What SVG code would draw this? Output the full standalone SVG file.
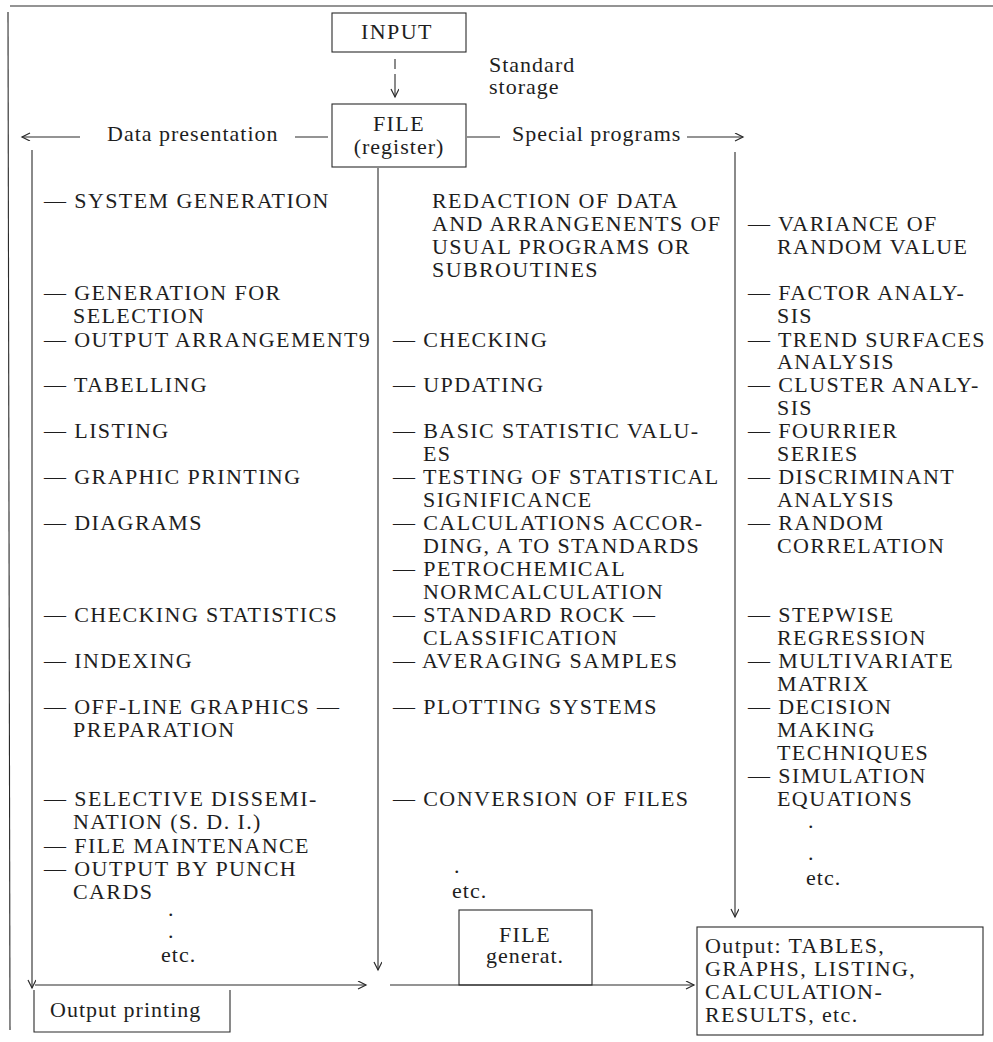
<svg xmlns="http://www.w3.org/2000/svg" width="993" height="1042" viewBox="0 0 993 1042">
  <style>
    text { font-family: "Liberation Serif", "Times New Roman", serif; font-size: 22px; fill: #1e1e1e; }
    .cap { letter-spacing: 1.4px; }
    .low { letter-spacing: 1px; }
    .mid { text-anchor: middle; }
    .box { fill: none; stroke: #2a2a2a; stroke-width: 1.1; }
    .ln { fill: none; stroke: #2a2a2a; stroke-width: 1.1; }
    .arr { marker-end: url(#head); }
  </style>
  <defs>
    <marker id="head" markerUnits="userSpaceOnUse" markerWidth="12" markerHeight="10" refX="9" refY="4" orient="auto">
      <path d="M1,0 L9,4 L1,8" fill="none" stroke="#2a2a2a" stroke-width="1.2"/>
    </marker>
  </defs>
  <rect width="993" height="1042" fill="#ffffff"/>

  <!-- page frame -->
  <g id="frame">
    <line class="ln" x1="10" y1="6" x2="993" y2="6"/>
    <line class="ln" x1="8" y1="12" x2="10" y2="1030"/>
  </g>

  <!-- connectors -->
  <g id="connectors">
    <line class="ln" x1="395" y1="59" x2="395" y2="69"/>
    <line class="ln arr" x1="395" y1="74" x2="395" y2="97"/>
    <line class="ln" x1="328" y1="137" x2="295" y2="137"/>
    <line class="ln arr" x1="80" y1="137" x2="22" y2="137"/>
    <line class="ln" x1="467" y1="137" x2="500" y2="137"/>
    <line class="ln arr" x1="687" y1="137" x2="743" y2="137"/>
    <line class="ln arr" x1="32" y1="150" x2="32" y2="988"/>
    <line class="ln arr" x1="378" y1="168" x2="378" y2="970"/>
    <line class="ln arr" x1="735" y1="152" x2="735" y2="917"/>
    <line class="ln arr" x1="35" y1="985" x2="366" y2="985"/>
    <line class="ln arr" x1="390" y1="985" x2="694" y2="985"/>
  </g>

  <!-- nodes -->
  <g id="input">
    <rect class="box" x="332" y="13" width="134" height="39"/>
    <text class="cap mid" x="397" y="39">INPUT</text>
  </g>
  <g id="storage-label">
    <text class="low" x="489" y="72">Standard</text>
    <text class="low" x="489" y="94">storage</text>
  </g>
  <g id="file-register">
    <rect class="box" x="332" y="104" width="134" height="63"/>
    <text class="cap mid" x="399" y="131">FILE</text>
    <text class="low mid" x="399" y="154">(register)</text>
  </g>
  <g id="data-presentation-label">
    <text class="low" x="107" y="141">Data presentation</text>
  </g>
  <g id="special-programs-label">
    <text class="low" x="512" y="141">Special programs</text>
  </g>
  <g id="file-generat">
    <rect class="box" x="459" y="910" width="133" height="75"/>
    <text class="cap mid" x="525" y="942">FILE</text>
    <text class="low mid" x="525" y="963">generat.</text>
  </g>
  <g id="output-printing">
    <path class="box" d="M34,990 V1032 H230 V990"/>
    <text class="low" x="50" y="1017">Output printing</text>
  </g>
  <g id="output-results">
    <rect class="box" x="697" y="927" width="286" height="108"/>
    <text class="cap" x="705" y="953">Output: TABLES,</text>
    <text class="cap" x="705" y="976">GRAPHS, LISTING,</text>
    <text class="cap" x="705" y="999">CALCULATION-</text>
    <text class="cap" x="705" y="1022">RESULTS, etc.</text>
  </g>

  <!-- data presentation column -->
  <g id="col-data-presentation" class="cap">
    <text class="cap" x="44" y="208">— SYSTEM GENERATION</text>
    <text class="cap" x="44" y="300">— GENERATION FOR</text>
    <text class="cap" x="73" y="323">SELECTION</text>
    <text class="cap" x="44" y="347">— OUTPUT ARRANGEMENT9</text>
    <text class="cap" x="44" y="392">— TABELLING</text>
    <text class="cap" x="44" y="438">— LISTING</text>
    <text class="cap" x="44" y="484">— GRAPHIC PRINTING</text>
    <text class="cap" x="44" y="530">— DIAGRAMS</text>
    <text class="cap" x="44" y="622">— CHECKING STATISTICS</text>
    <text class="cap" x="44" y="668">— INDEXING</text>
    <text class="cap" x="44" y="714">— OFF-LINE GRAPHICS —</text>
    <text class="cap" x="73" y="737">PREPARATION</text>
    <text class="cap" x="44" y="806">— SELECTIVE DISSEMI-</text>
    <text class="cap" x="73" y="829">NATION (S. D. I.)</text>
    <text class="cap" x="44" y="853">— FILE MAINTENANCE</text>
    <text class="cap" x="44" y="876">— OUTPUT BY PUNCH</text>
    <text class="cap" x="73" y="899">CARDS</text>
    <text x="168" y="916">.</text>
    <text x="168" y="938">.</text>
    <text class="low" x="161" y="962">etc.</text>
  </g>

  <!-- usual programs column -->
  <g id="col-usual-programs">
    <text class="cap" x="432" y="208">REDACTION OF DATA</text>
    <text class="cap" x="432" y="231">AND ARRANGENENTS OF</text>
    <text class="cap" x="432" y="254">USUAL PROGRAMS OR</text>
    <text class="cap" x="432" y="277">SUBROUTINES</text>
    <text class="cap" x="393" y="347">— CHECKING</text>
    <text class="cap" x="393" y="392">— UPDATING</text>
    <text class="cap" x="393" y="438">— BASIC STATISTIC VALU-</text>
    <text class="cap" x="423" y="461">ES</text>
    <text class="cap" x="393" y="484">— TESTING OF STATISTICAL</text>
    <text class="cap" x="423" y="507">SIGNIFICANCE</text>
    <text class="cap" x="393" y="530">— CALCULATIONS ACCOR-</text>
    <text class="cap" x="423" y="553">DING, A TO STANDARDS</text>
    <text class="cap" x="393" y="576">— PETROCHEMICAL</text>
    <text class="cap" x="423" y="599">NORMCALCULATION</text>
    <text class="cap" x="393" y="622">— STANDARD ROCK —</text>
    <text class="cap" x="423" y="645">CLASSIFICATION</text>
    <text class="cap" x="393" y="668">— AVERAGING SAMPLES</text>
    <text class="cap" x="393" y="714">— PLOTTING SYSTEMS</text>
    <text class="cap" x="393" y="806">— CONVERSION OF FILES</text>
    <text x="454" y="873">.</text>
    <text class="low" x="452" y="898">etc.</text>
  </g>

  <!-- special programs column -->
  <g id="col-special-programs">
    <text class="cap" x="748" y="231">— VARIANCE OF</text>
    <text class="cap" x="777" y="254">RANDOM VALUE</text>
    <text class="cap" x="748" y="300">— FACTOR ANALY-</text>
    <text class="cap" x="777" y="323">SIS</text>
    <text class="cap" x="748" y="347">— TREND SURFACES</text>
    <text class="cap" x="777" y="369">ANALYSIS</text>
    <text class="cap" x="748" y="392">— CLUSTER ANALY-</text>
    <text class="cap" x="777" y="415">SIS</text>
    <text class="cap" x="748" y="438">— FOURRIER</text>
    <text class="cap" x="777" y="461">SERIES</text>
    <text class="cap" x="748" y="484">— DISCRIMINANT</text>
    <text class="cap" x="777" y="507">ANALYSIS</text>
    <text class="cap" x="748" y="530">— RANDOM</text>
    <text class="cap" x="777" y="553">CORRELATION</text>
    <text class="cap" x="748" y="622">— STEPWISE</text>
    <text class="cap" x="777" y="645">REGRESSION</text>
    <text class="cap" x="748" y="668">— MULTIVARIATE</text>
    <text class="cap" x="777" y="691">MATRIX</text>
    <text class="cap" x="748" y="714">— DECISION</text>
    <text class="cap" x="777" y="737">MAKING</text>
    <text class="cap" x="777" y="760">TECHNIQUES</text>
    <text class="cap" x="748" y="783">— SIMULATION</text>
    <text class="cap" x="777" y="806">EQUATIONS</text>
    <text x="808" y="828">.</text>
    <text x="808" y="860">.</text>
    <text class="low" x="806" y="885">etc.</text>
  </g>
</svg>
